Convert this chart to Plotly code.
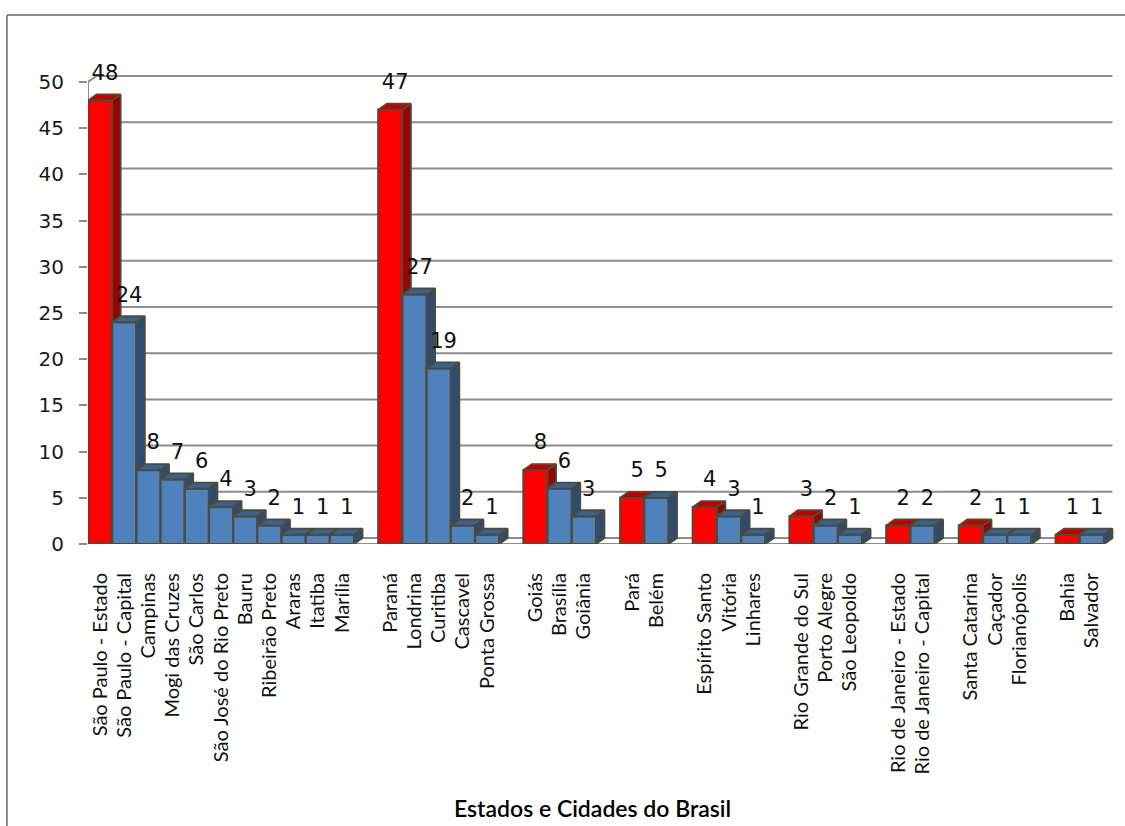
import plotly.graph_objects as go

# Bars per state: the first of each group is the state total, the rest are its cities
nomes = [
    "São Paulo - Estado", "São Paulo - Capital", "Campinas", "Mogi das Cruzes",
    "São Carlos", "São José do Rio Preto", "Bauru", "Ribeirão Preto", "Araras",
    "Itatiba", "Marília",
    "Paraná", "Londrina", "Curitiba", "Cascavel", "Ponta Grossa",
    "Goiás", "Brasília", "Goiânia",
    "Pará", "Belém",
    "Espírito Santo", "Vitória", "Linhares",
    "Rio Grande do Sul", "Porto Alegre", "São Leopoldo",
    "Rio de Janeiro - Estado", "Rio de Janeiro - Capital",
    "Santa Catarina", "Caçador", "Florianópolis",
    "Bahia", "Salvador",
]
valores = [48, 24, 8, 7, 6, 4, 3, 2, 1, 1, 1,
           47, 27, 19, 2, 1,
           8, 6, 3,
           5, 5,
           4, 3, 1,
           3, 2, 1,
           2, 2,
           2, 1, 1,
           1, 1]
tamanho_grupos = [11, 5, 3, 2, 3, 3, 2, 3, 2]
y_ticks = list(range(0, 51, 5))
titulo_x = "Estados e Cidades do Brasil"

# colours
RED, RED_TOP, RED_SIDE = "#FF0000", "#C00000", "#9E0000"
BLUE, BLUE_TOP, BLUE_SIDE = "#4F81BD", "#3A6191", "#2D4C74"
EDGE = "#4F4B38"
GRID = "#8C8C8C"

# slot position of every bar (one empty slot between groups), colour kind, next neighbour
slots, estado, vizinho = [], [], []
idx = 0
for g, n in enumerate(tamanho_grupos):
    for k in range(n):
        slots.append(idx + g)
        estado.append(k == 0)
        vizinho.append(idx + 1 if k < n - 1 else None)
        idx += 1

n_slots = slots[-1] + 1
DX, DY = 0.35, 0.65          # oblique depth of the pseudo-3D boxes, in axis units
X0 = -0.5
X1 = n_slots - 0.5

fig = go.Figure()

# front faces
fig.add_trace(go.Bar(
    x=slots, y=valores, width=1,
    marker=dict(color=[RED if e else BLUE for e in estado],
                line=dict(color=EDGE, width=2.2)),
    hoverinfo="skip", showlegend=False,
))

# top and side faces
for i, (s, v) in enumerate(zip(slots, valores)):
    a = s + 0.5
    top_c = RED_TOP if estado[i] else BLUE_TOP
    side_c = RED_SIDE if estado[i] else BLUE_SIDE
    fig.add_trace(go.Scatter(
        x=[a - 1, a, a + DX, a - 1 + DX, a - 1],
        y=[v, v, v + DY, v + DY, v],
        mode="lines", fill="toself", fillcolor=top_c,
        line=dict(color=EDGE, width=1.8), hoverinfo="skip", showlegend=False,
    ))
    vn = valores[vizinho[i]] if vizinho[i] is not None else 0
    if vn > 0:
        sx = [a, a, a + DX, a + DX, a]
        sy = [vn, v, v + DY, vn + DY, vn]
    else:
        sx = [a, a, a + DX, a + DX, a]
        sy = [0, v, v + DY, DY, 0]
    fig.add_trace(go.Scatter(
        x=sx, y=sy, mode="lines", fill="toself", fillcolor=side_c,
        line=dict(color=EDGE, width=1.8), hoverinfo="skip", showlegend=False,
    ))

# value labels
fig.add_trace(go.Scatter(
    x=[s + 0.2 for s in slots], y=[v + 2.8 for v in valores],
    text=[str(v) for v in valores], mode="text", textposition="middle center",
    textfont=dict(family="DejaVu Sans", size=21, color="#111111"),
    hoverinfo="skip", showlegend=False, cliponaxis=False,
))

# back-wall gridlines, floor and front axis line
shapes = []
for t in y_ticks:
    shapes.append(dict(type="path", xref="x", yref="y", layer="below",
                       path=f"M {X0} {t} L {X0 + DX} {t + DY} L {X1 + DX} {t + DY}",
                       line=dict(color=GRID, width=2)))
shapes.append(dict(type="path", xref="x", yref="y", layer="below",
                   path=f"M {X0} 0 L {X1} 0 L {X1 + DX} {DY}",
                   line=dict(color=GRID, width=2)))
shapes.append(dict(type="line", xref="x", yref="y", layer="below",
                   x0=X0, x1=X0, y0=0, y1=y_ticks[-1],
                   line=dict(color=GRID, width=2)))
# outer chart frame (top and left edges)
shapes.append(dict(type="line", xref="paper", yref="paper",
                   x0=-0.079, x1=1.02, y0=1.116, y1=1.116,
                   line=dict(color="#8A8A8A", width=2)))
shapes.append(dict(type="line", xref="paper", yref="paper",
                   x0=-0.079, x1=-0.079, y0=1.116, y1=-0.62,
                   line=dict(color="#8A8A8A", width=2)))

fig.update_layout(
    width=1125, height=826,
    margin=dict(l=88, r=11, t=70, b=282),
    paper_bgcolor="white", plot_bgcolor="white",
    showlegend=False,
    shapes=shapes,
    xaxis=dict(
        range=[X0, X0 + 1026 / 24.19],
        tickmode="array", tickvals=slots, ticktext=nomes,
        tickangle=-90, tickfont=dict(family="Lato", size=20, color="#111111"),
        ticks="outside", ticklen=20, tickcolor="rgba(0,0,0,0)",
        showgrid=False, zeroline=False, showline=False,
    ),
    yaxis=dict(
        range=[0, 474 / 9.24],
        tickmode="array", tickvals=y_ticks,
        tickfont=dict(family="DejaVu Sans", size=20, color="#1A1A1A"),
        ticks="outside", ticklen=8, tickwidth=2, tickcolor=GRID,
        ticklabelstandoff=11,
        showgrid=False, zeroline=False, showline=False,
    ),
    annotations=[dict(
        text=titulo_x, xref="paper", yref="paper", x=0.492, y=-0.557,
        xanchor="center", yanchor="middle", showarrow=False,
        font=dict(family="Lato", size=23, color="#000000", weight=600),
    )],
)

fig.write_html("out.html")
